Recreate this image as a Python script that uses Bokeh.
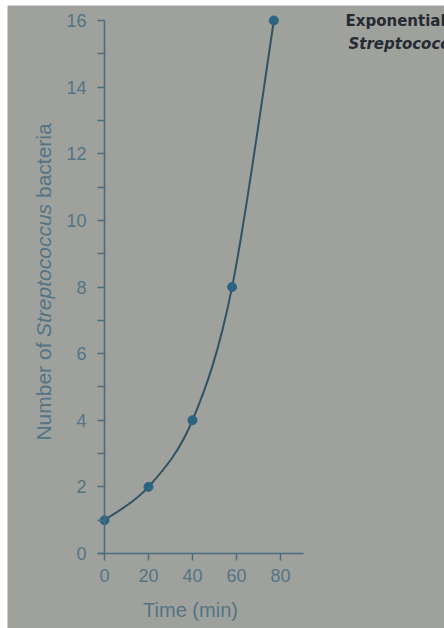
from bokeh.plotting import figure
from bokeh.models import Range1d, FixedTicker, Label
from bokeh.embed import file_html
from bokeh.resources import INLINE

# Data
time_min = [0, 20, 40, 58, 77]
bacteria = [1, 2, 4, 8, 16]
x_ticks = [0, 20, 40, 60, 80]
y_ticks = [0, 2, 4, 6, 8, 10, 12, 14, 16]
y_minor_ticks = [1, 3, 5, 7, 9, 11, 13, 15]

BG = "#9fa19d"
AXIS = "#4b6d7e"
LABEL = "#527485"
CURVE = "#2f5466"
DOT = "#2a6483"

# frame covers the whole photo area; axes are drawn at fixed data locations
p = figure(width=444, height=628, x_range=Range1d(-44.09, 154.55), y_range=Range1d(-2.251, 16.45),
           output_backend="svg", toolbar_location=None,
           min_border_left=7, min_border_right=0, min_border_top=5, min_border_bottom=0)
p.background_fill_color = BG
p.border_fill_color = "white"
p.outline_line_color = None
p.xgrid.visible = False
p.ygrid.visible = False

for ax in (p.xaxis[0], p.yaxis[0]):
    ax.axis_line_color = AXIS
    ax.axis_line_width = 1.6
    ax.major_tick_line_color = AXIS
    ax.minor_tick_line_color = AXIS
    ax.major_tick_line_width = 1.5
    ax.minor_tick_line_width = 1.5
    ax.major_tick_in = 0
    ax.major_tick_out = 7
    ax.minor_tick_in = 0
    ax.minor_tick_out = 7
    ax.major_label_text_color = LABEL
    ax.major_label_text_font = "Liberation Sans"
    ax.major_label_text_font_size = "18px"

p.xaxis[0].fixed_location = 0
p.xaxis[0].bounds = (-3.2, 90.5)
p.xaxis[0].major_label_standoff = 8
p.yaxis[0].fixed_location = 0
p.yaxis[0].bounds = (0, 16)
p.yaxis[0].major_label_standoff = 11

p.xaxis[0].ticker = FixedTicker(ticks=x_ticks, minor_ticks=[])
p.yaxis[0].ticker = FixedTicker(ticks=y_ticks, minor_ticks=y_minor_ticks)

# Smooth curve through the points (Catmull-Rom -> cubic Bezier)
n = len(time_min)
x0, y0, x1, y1, cx0, cy0, cx1, cy1 = [], [], [], [], [], [], [], []
for i in range(n - 1):
    pm = max(i - 1, 0)
    pp = min(i + 2, n - 1)
    x0.append(time_min[i]); y0.append(bacteria[i])
    x1.append(time_min[i + 1]); y1.append(bacteria[i + 1])
    cx0.append(time_min[i] + (time_min[i + 1] - time_min[pm]) / 6)
    cy0.append(bacteria[i] + (bacteria[i + 1] - bacteria[pm]) / 6)
    cx1.append(time_min[i + 1] - (time_min[pp] - time_min[i]) / 6)
    cy1.append(bacteria[i + 1] - (bacteria[pp] - bacteria[i]) / 6)
p.bezier(x0=x0, y0=y0, x1=x1, y1=y1, cx0=cx0, cy0=cy0, cx1=cx1, cy1=cy1,
         line_color=CURVE, line_width=2)
p.scatter(time_min, bacteria, size=9, fill_color=DOT, line_color=DOT)

# Axis titles
p.add_layout(Label(x=39.1, y=-1.7, text="Time (min)", text_align="center", text_baseline="middle",
                   text_font="Liberation Sans", text_font_size="20px", text_color=LABEL))
ylab_x = -27.7
p.add_layout(Label(x=ylab_x, y=3.39, text="Number of", angle=1.5708, text_align="left",
                   text_baseline="middle", text_font="Liberation Sans", text_font_size="21px",
                   text_color=LABEL))
p.add_layout(Label(x=ylab_x, y=6.5, text="Streptococcus", angle=1.5708, text_align="left",
                   text_baseline="middle", text_font="Liberation Sans", text_font_style="italic",
                   text_font_size="21px", text_color=LABEL))
p.add_layout(Label(x=ylab_x, y=10.67, text="bacteria", angle=1.5708, text_align="left",
                   text_baseline="middle", text_font="Liberation Sans", text_font_size="21px",
                   text_color=LABEL))

# Caption fragment at the top right of the photographed page (cut by the photo edge)
p.add_layout(Label(x=109.55, y=15.97, text="Exponential", text_align="left", text_baseline="alphabetic",
                   text_font="DejaVu Sans", text_font_style="bold", text_font_size="15px",
                   text_color="#262a33"))
p.add_layout(Label(x=110.9, y=15.28, text="Streptococcus", text_align="left", text_baseline="alphabetic",
                   text_font="DejaVu Sans", text_font_style="bold italic", text_font_size="15px",
                   text_color="#262a33"))

open("out.html", "w").write(file_html(p, INLINE))
